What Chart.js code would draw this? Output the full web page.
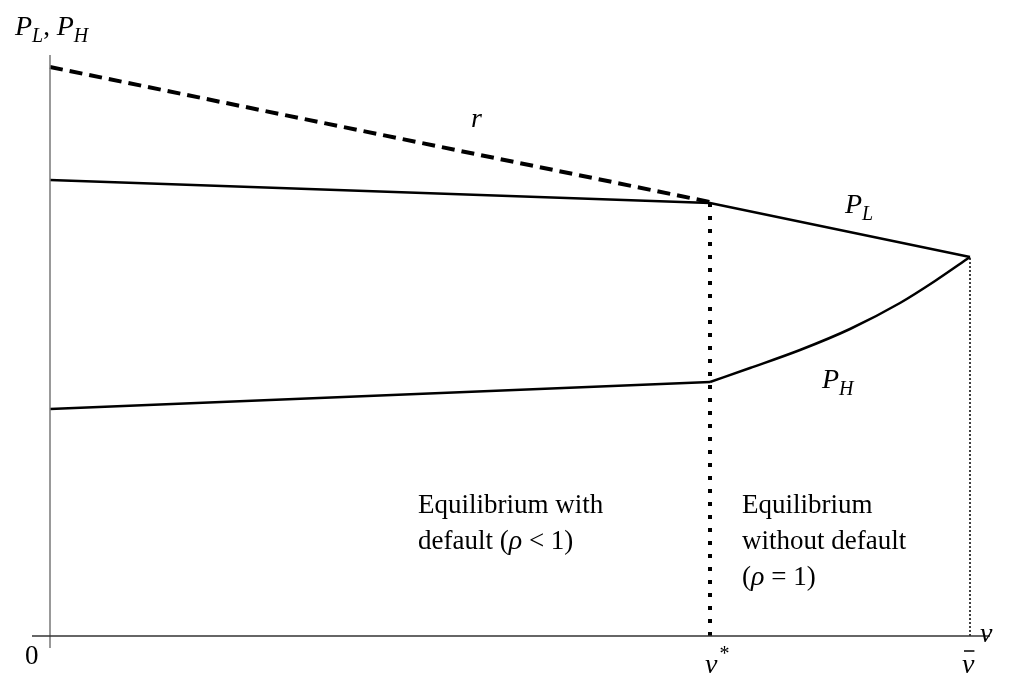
<!DOCTYPE html>
<html>
<head>
<meta charset="utf-8">
<script src="https://cdn.jsdelivr.net/npm/chart.js@4"></script>
<style>
  html, body { margin: 0; padding: 0; background: #fff; }
</style>
</head>
<body>
<canvas id="chart" width="1023" height="679"></canvas>
<script>
// values in chart units (x: v, y: price)
const rLine = [{x: 0, y: 569}, {x: 660, y: 434}];
const pLow = [{x: 0, y: 456}, {x: 660, y: 433}, {x: 920, y: 379}];
const pHighDefault = [{x: 0, y: 227}, {x: 660, y: 254}];
const pHighNoDefault = [{x: 660, y: 254}, {x: 700, y: 268}, {x: 750, y: 286}, {x: 800, y: 307},
                        {x: 850, y: 333}, {x: 885, y: 355}, {x: 920, y: 379}];
const vStar = 660;
const vBar = 920;
const xAxisLine = [{x: -18, y: 0}, {x: 940, y: 0}];
const yAxisLine = [{x: 0, y: -12}, {x: 0, y: 581}];

const serif = '"Liberation Serif", "DejaVu Serif", serif';

// text drawn as runs: [text, style] where style: 'n' normal, 'i' italic, 's' italic subscript, 'u' superscript
const labels = [
  {x: -35, y: 601, runs: [['P', 'i'], ['L', 's'], [', ', 'n'], ['P', 'i'], ['H', 's']]},
  {x: 421, y: 509, runs: [['r', 'i']]},
  {x: 795, y: 423, runs: [['P', 'i'], ['L', 's']]},
  {x: 772, y: 248, runs: [['P', 'i'], ['H', 's']]},
  {x: 368, y: 123, runs: [['Equilibrium with', 'n']]},
  {x: 368, y: 87, runs: [['default (', 'n'], ['ρ', 'i'], [' < 1)', 'n']]},
  {x: 692, y: 123, runs: [['Equilibrium', 'n']]},
  {x: 692, y: 87, runs: [['without default', 'n']]},
  {x: 692, y: 51, runs: [['(', 'n'], ['ρ', 'i'], [' = 1)', 'n']]},
  {x: -25, y: -28, runs: [['0', 'n']]},
  {x: 655, y: -37, runs: [['v', 'i'], ['*', 'u']]},
  {x: 912, y: -37, runs: [['v', 'i']], bar: true},
  {x: 930, y: -6, runs: [['v', 'i']]}
];

const textPlugin = {
  id: 'texts',
  afterDatasetsDraw(chart) {
    const ctx = chart.ctx;
    const xs = chart.scales.x, ys = chart.scales.y;
    ctx.save();
    ctx.fillStyle = '#000';
    ctx.textBaseline = 'alphabetic';
    labels.forEach(lb => {
      let px = xs.getPixelForValue(lb.x);
      const py = ys.getPixelForValue(lb.y);
      const start = px;
      lb.runs.forEach(([t, s]) => {
        let dy = 0;
        if (s === 'n') ctx.font = '27px ' + serif;
        else if (s === 'i') ctx.font = 'italic 28px ' + serif;
        else if (s === 's') { ctx.font = 'italic 20px ' + serif; dy = 7; }
        else if (s === 'u') { ctx.font = '20px ' + serif; dy = -13; px += 2; }
        ctx.fillText(t, px, py + dy);
        px += ctx.measureText(t).width;
      });
      if (lb.bar) {
        ctx.strokeStyle = '#000';
        ctx.lineWidth = 1.5;
        ctx.beginPath();
        ctx.moveTo(start + 2, py - 22);
        ctx.lineTo(px, py - 22);
        ctx.stroke();
      }
    });
    ctx.restore();
  }
};

new Chart(document.getElementById('chart'), {
  type: 'line',
  data: {
    datasets: [
      {data: xAxisLine, borderColor: '#333', borderWidth: 1.5},
      {data: yAxisLine, borderColor: '#777', borderWidth: 1.5},
      {data: rLine, borderColor: '#000', borderWidth: 4, borderDash: [13, 7]},
      {data: pLow, borderColor: '#000', borderWidth: 2.5},
      {data: pHighDefault, borderColor: '#000', borderWidth: 2.5},
      {data: pHighNoDefault, borderColor: '#000', borderWidth: 2.5, cubicInterpolationMode: 'monotone'},
      {data: [{x: vStar, y: 0}, {x: vStar, y: 433}], borderColor: '#000', borderWidth: 4, borderDash: [4, 9]},
      {data: [{x: vBar, y: 0}, {x: vBar, y: 379}], borderColor: '#000', borderWidth: 1.5, borderDash: [2, 2]}
    ]
  },
  options: {
    responsive: false,
    animation: false,
    events: [],
    layout: {padding: 0},
    elements: {point: {radius: 0}, line: {tension: 0, fill: false, borderCapStyle: 'butt'}},
    plugins: {legend: {display: false}, tooltip: {enabled: false}},
    scales: {
      x: {type: 'linear', min: -50, max: 973, display: false},
      y: {type: 'linear', min: -43, max: 636, display: false}
    }
  },
  plugins: [textPlugin]
});
</script>
</body>
</html>
